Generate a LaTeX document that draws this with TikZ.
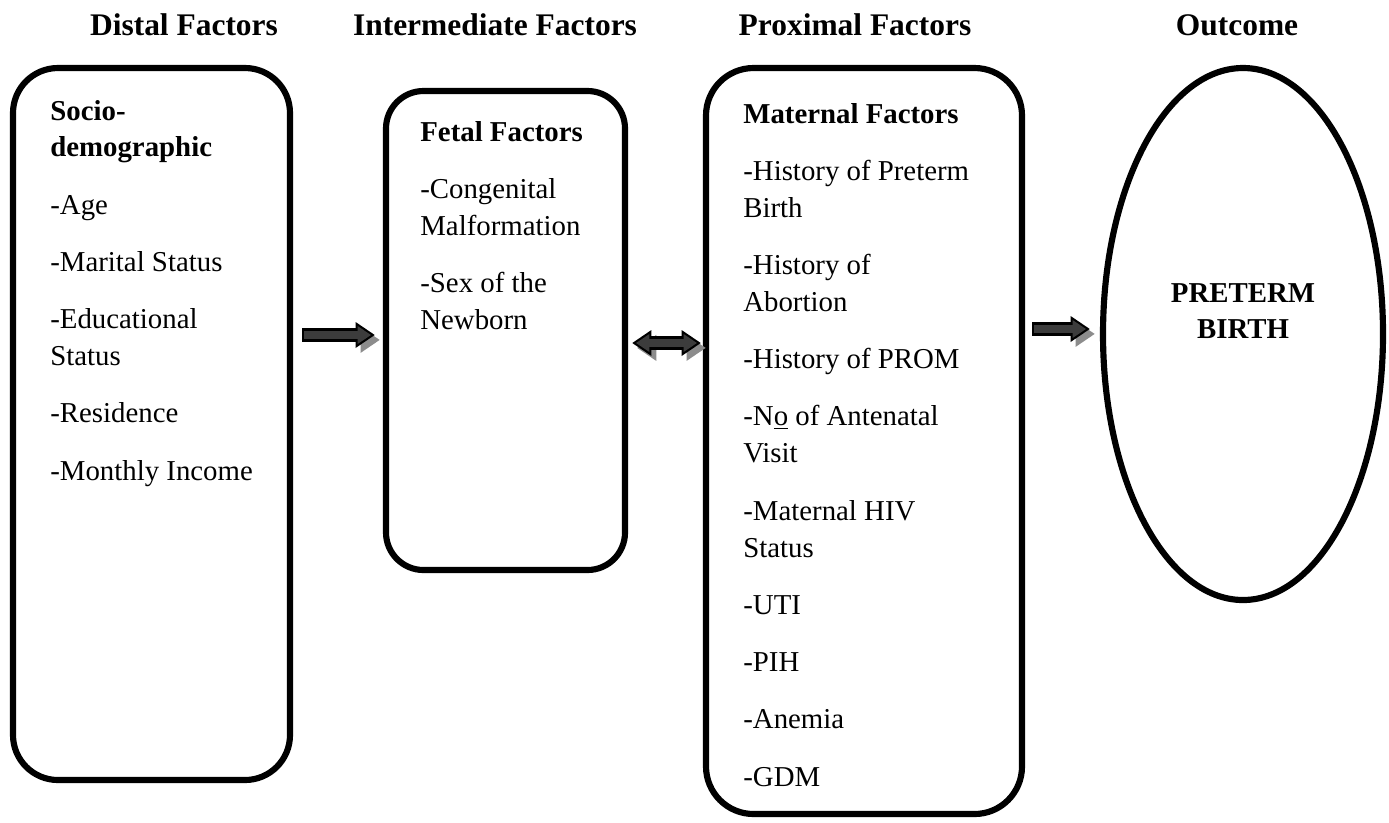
\documentclass[tikz,border=0pt]{standalone}
\usepackage{fontspec}
\setmainfont{Liberation Serif}
\usetikzlibrary{positioning, shapes.geometric, arrows.meta, calc}
\definecolor{arrowfill}{HTML}{3C3C3C}
\definecolor{arrowshade}{HTML}{8C8C8C}
\tikzset{
	tipout/.tip={Triangle[length=11pt,width=14pt]},
	tipin/.tip={Triangle[length=7.6pt,width=9.6pt]}
}
\tikzset{
	headtext/.style={font=\fontsize{17.9}{21}\selectfont\bfseries, anchor=base, inner sep=0pt}
}
\tikzset{
	listtext/.style={font=\fontsize{16.4}{21}\selectfont, anchor=base west, inner sep=0pt, align=flush left, text width=#1}
}
\tikzset{
	factorbox/.style={draw, line width=3.5pt, rounded corners=#1, inner sep=0pt}
}
\tikzset{
	blockarrow/.style 2 args={
			line width=7.5pt, draw=black, #1,
			preaction={draw=arrowshade, #1, transform canvas={shift={(2.8pt,-2.8pt)}}},
			postaction={draw=arrowfill, line width=5pt, #2}
		}
}

\begin{document}
\begin{tikzpicture}

	\useasboundingbox (0,0) rectangle (27.78,-16.44);

	\begin{scope}
		\node[headtext] (hdistal) at (3.68,-0.70) {Distal Factors};
		\node[headtext] (hinter) at (9.90,-0.70) {Intermediate Factors};
		\node[headtext] (hprox) at (17.10,-0.70) {Proximal Factors};
		\node[headtext] (hout) at (24.74,-0.70) {Outcome};
	\end{scope}

	\begin{scope}
		\node[factorbox=0.9cm, minimum width=5.54cm, minimum height=14.24cm] (distal) at (3.03,-8.48) {};
		\node[factorbox=0.75cm, minimum width=4.78cm, minimum height=9.58cm] (fetal) at (10.11,-6.61) {};
		\node[factorbox=0.95cm, minimum width=6.32cm, minimum height=14.92cm] (maternal) at (17.28,-8.82) {};
		\node[draw, ellipse, line width=3.5pt, minimum width=5.6cm, minimum height=10.64cm, inner sep=0pt] (outcome) at (24.86,-6.68) {};
	\end{scope}

	\begin{scope}
		\node[listtext=4.6cm] (distaltext) at (1.0,-2.40) {\textbf{Socio-}\\
			\textbf{demographic}\\[11.6pt]
			-Age\\[11.6pt]
			-Marital Status\\[11.6pt]
			-Educational\\
			Status\\[11.6pt]
			-Residence\\[11.6pt]
			-Monthly Income};
		\node[listtext=4.0cm] (fetaltext) at (8.40,-2.82) {\textbf{Fetal Factors}\\[11.6pt]
			-Congenital\\
			Malformation\\[11.6pt]
			-Sex of the\\
			Newborn};
		\node[listtext=5.5cm] (maternaltext) at (14.86,-2.46) {\textbf{Maternal Factors}\\[11.6pt]
			-History of Preterm\\
			Birth\\[11.6pt]
			-History of\\
			Abortion\\[11.6pt]
			-History of PROM\\[11.6pt]
			-N\underline{o} of Antenatal\\
			Visit\\[11.6pt]
			-Maternal HIV\\
			Status\\[11.6pt]
			-UTI\\[11.6pt]
			-PIH\\[11.6pt]
			-Anemia\\[11.6pt]
			-GDM};
		\node[listtext=5cm, anchor=base, align=flush center] (outcometext) at (24.86,-6.04) {\textbf{PRETERM}\\
			\textbf{BIRTH}};
	\end{scope}

	\begin{scope}
		\draw[blockarrow={-tipout}{-tipin, shorten >=2.2pt, shorten <=1.25pt}]
		([shift={(0.18,-0.09)}]fetal.west -| distal.east) -- ([shift={(-0.16,-0.09)}]fetal.west);
		\draw[blockarrow={tipout-tipout}{tipin-tipin, shorten >=2.2pt, shorten <=2.2pt}]
		([shift={(0.08,-0.25)}]fetal.east) -- ([shift={(-0.04,-0.25)}]fetal.east -| maternal.west);
		\draw[blockarrow={-tipout}{-tipin, shorten >=2.2pt, shorten <=1.25pt}]
		([shift={(0.14,0.10)}]outcome.west -| maternal.east) -- ([shift={(-0.20,0.10)}]outcome.west);
	\end{scope}

\end{tikzpicture}
\end{document}
